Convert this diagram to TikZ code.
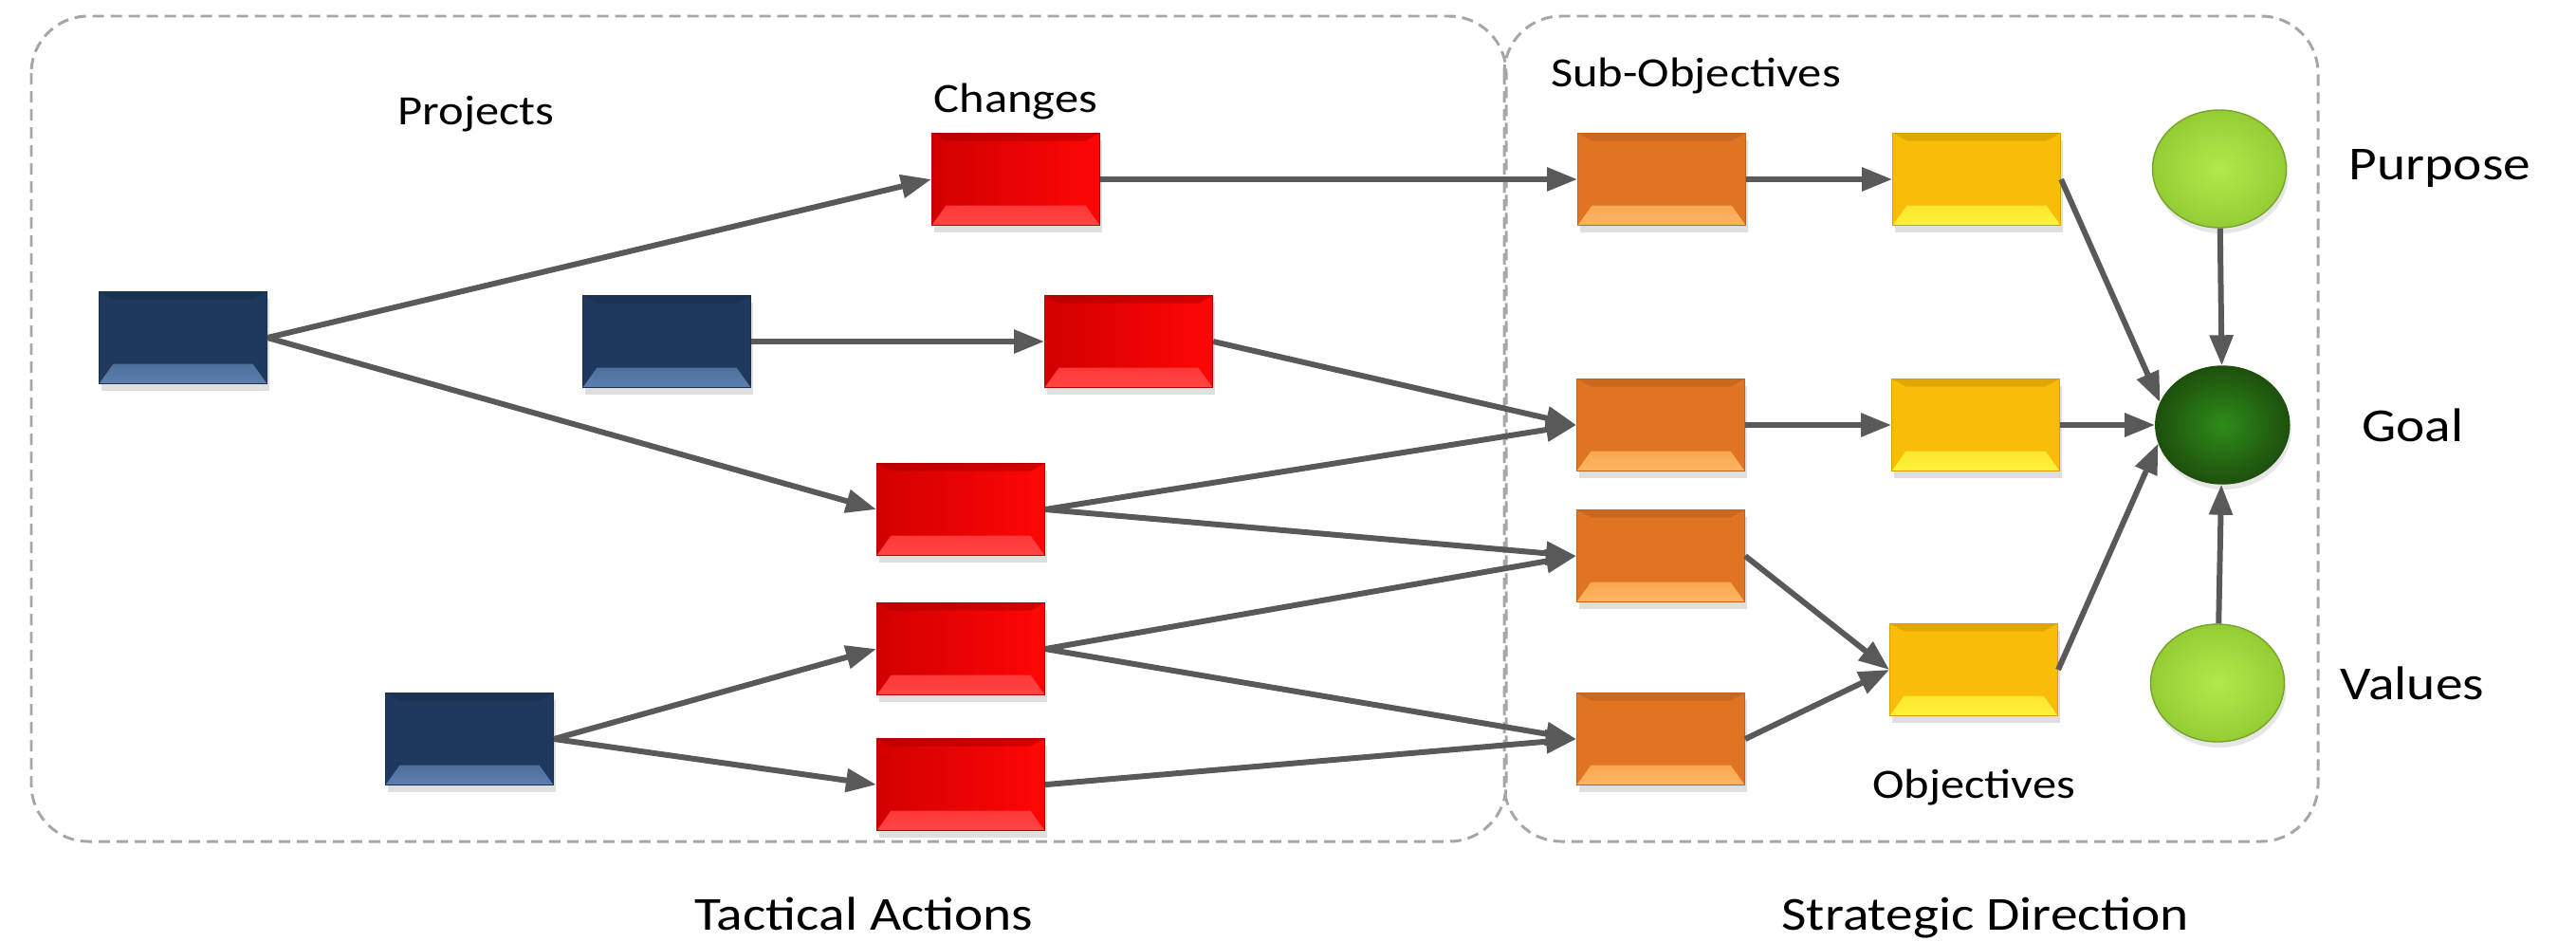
\documentclass[tikz,border=0pt]{standalone}
\usepackage{fontspec}
\setmainfont{Carlito}[FakeStretch=1.15]
\usetikzlibrary{arrows.meta,positioning,shadows,shapes.geometric}

\definecolor{projblue}{HTML}{1E385E}
\definecolor{projbluelt}{HTML}{5C7FAD}
\definecolor{chgred}{HTML}{FF0606}
\definecolor{chgreddk}{HTML}{D20000}
\definecolor{chgredlt}{HTML}{FF4545}
\definecolor{subor}{HTML}{E07422}
\definecolor{suborlt}{HTML}{FFB560}
\definecolor{objyel}{HTML}{F9BC07}
\definecolor{objyellt}{HTML}{FFF23A}
\definecolor{purgreen}{HTML}{B2EA4C}
\definecolor{purgreendk}{HTML}{94CC34}
\definecolor{goalgreen}{HTML}{2E8C1A}
\definecolor{goalgreendk}{HTML}{1E500D}
\definecolor{linegray}{HTML}{595959}
\definecolor{framegray}{HTML}{A6A6A6}

\begin{document}
\begin{tikzpicture}[
      mybox/.style n args={3}{
         rectangle,
         minimum width=1.77cm,
         minimum height=0.97cm,
         inner sep=0pt,
         left color=#1,
         right color=#2,
         draw=#1!85!black,
         line width=0.3pt,
         drop shadow={shadow xshift=0.02cm,shadow yshift=-0.07cm,opacity=0.25},
         path picture={
            \shade[top color=#2,bottom color=#3]
               (path picture bounding box.south west)
               -- ([xshift=0.15cm,yshift=0.21cm]path picture bounding box.south west)
               -- ([xshift=-0.15cm,yshift=0.21cm]path picture bounding box.south east)
               -- (path picture bounding box.south east) -- cycle;
            \fill[#1!80!black,opacity=0.5]
               (path picture bounding box.north west)
               -- ([xshift=0.15cm,yshift=-0.08cm]path picture bounding box.north west)
               -- ([xshift=-0.15cm,yshift=-0.08cm]path picture bounding box.north east)
               -- (path picture bounding box.north east) -- cycle;}},
      projbox/.style={mybox={projblue}{projblue}{projbluelt}},
      chgbox/.style={mybox={chgreddk}{chgred}{chgredlt}},
      subbox/.style={mybox={subor}{subor}{suborlt}},
      objbox/.style={mybox={objyel}{objyel}{objyellt}},
      myoval/.style={
         ellipse,
         minimum width=1.41cm,
         minimum height=1.24cm,
         inner sep=0pt,
         drop shadow={shadow xshift=0.02cm,shadow yshift=-0.06cm,opacity=0.2}},
      lbl/.style={font=\fontsize{12.5}{15}\selectfont,inner sep=0pt},
      biglbl/.style={font=\fontsize{14.2}{17}\selectfont,inner sep=0pt},
      link/.style={-{Triangle[length=0.32cm,width=0.24cm]},line width=1.7pt,draw=linegray},
      areaframe/.style={draw=framegray,line width=0.85pt,dash pattern=on 0.12cm off 0.07cm,rounded corners=0.6cm}
      ]
      \useasboundingbox (0,0) rectangle (27.16,-9.93);

      % the two areas
      \draw[areaframe] (0.33,-0.17) rectangle (15.88,-8.87);
      \draw[areaframe] (15.86,-0.17) rectangle (24.44,-8.87);

      % projects
      \node[projbox] (b1) at (1.93,-3.56) {};
      \node[projbox] (b2) at (7.03,-3.60) {};
      \node[projbox] (b3) at (4.95,-7.79) {};

      % changes
      \node[chgbox] (c1) at (10.71,-1.89) {};
      \node[chgbox,right=3.09cm of b2] (c2) {};
      \node[chgbox] (c3) at (10.13,-5.37) {};
      \node[chgbox,below=0.49cm of c3] (c4) {};
      \node[chgbox,below=0.45cm of c4] (c5) {};

      % sub-objectives
      \node[subbox,right=5.03cm of c1] (s1) {};
      \node[subbox] (s2) at (17.51,-4.48) {};
      \node[subbox,below=0.40cm of s2] (s3) {};
      \node[subbox] (s4) at (17.51,-7.79) {};

      % objectives
      \node[objbox,right=1.54cm of s1] (o1) {};
      \node[objbox,right=1.54cm of s2] (o2) {};
      \node[objbox] (o3) at (20.81,-7.06) {};

      % purpose, goal, values
      \node[myoval,shading=radial,inner color=purgreen,outer color=purgreendk,draw=purgreendk!80!black] (purpose) at (23.40,-1.78) {};
      \node[myoval,shading=radial,inner color=goalgreen,outer color=goalgreendk,draw=goalgreendk,right=1.0cm of o2] (goal) {};
      \node[myoval,shading=radial,inner color=purgreen,outer color=purgreendk,draw=purgreendk!80!black] (values) at (23.38,-7.20) {};

      % labels
      \node[lbl] (projlbl) at (5.02,-1.20) {Projects};
      \node[lbl,above=0.13cm of c1] (chglbl) {Changes};
      \node[lbl] (sublbl) at (17.88,-0.80) {Sub-Objectives};
      \node[lbl,below=0.55cm of o3] (objlbl) {Objectives};
      \node[biglbl,right=0.65cm of purpose] (purlbl) {Purpose};
      \node[biglbl,right=0.75cm of goal] (goallbl) {Goal};
      \node[biglbl,right=0.58cm of values] (vallbl) {Values};
      \node[biglbl] (taclbl) at (9.11,-9.63) {Tactical Actions};
      \node[biglbl] (strlbl) at (20.93,-9.68) {Strategic Direction};

    \foreach \i/\j in {% start node/end node
      b1/c1, b1/c3, b2/c2, b3/c4, b3/c5,
      c1/s1, c2/s2, c3/s2, c3/s3, c4/s3, c4/s4, c5/s4,
      s1/o1, s2/o2, s3/o3, s4/o3}
       \draw[link] (\i.east) -- (\j.west);

    \foreach \i/\a in {o1/160, o2/180, o3/196}
       \draw[link] (\i.east) -- (goal.\a);
    \draw[link] (purpose) -- (goal);
    \draw[link] (values) -- (goal);

    \end{tikzpicture}
\end{document}
